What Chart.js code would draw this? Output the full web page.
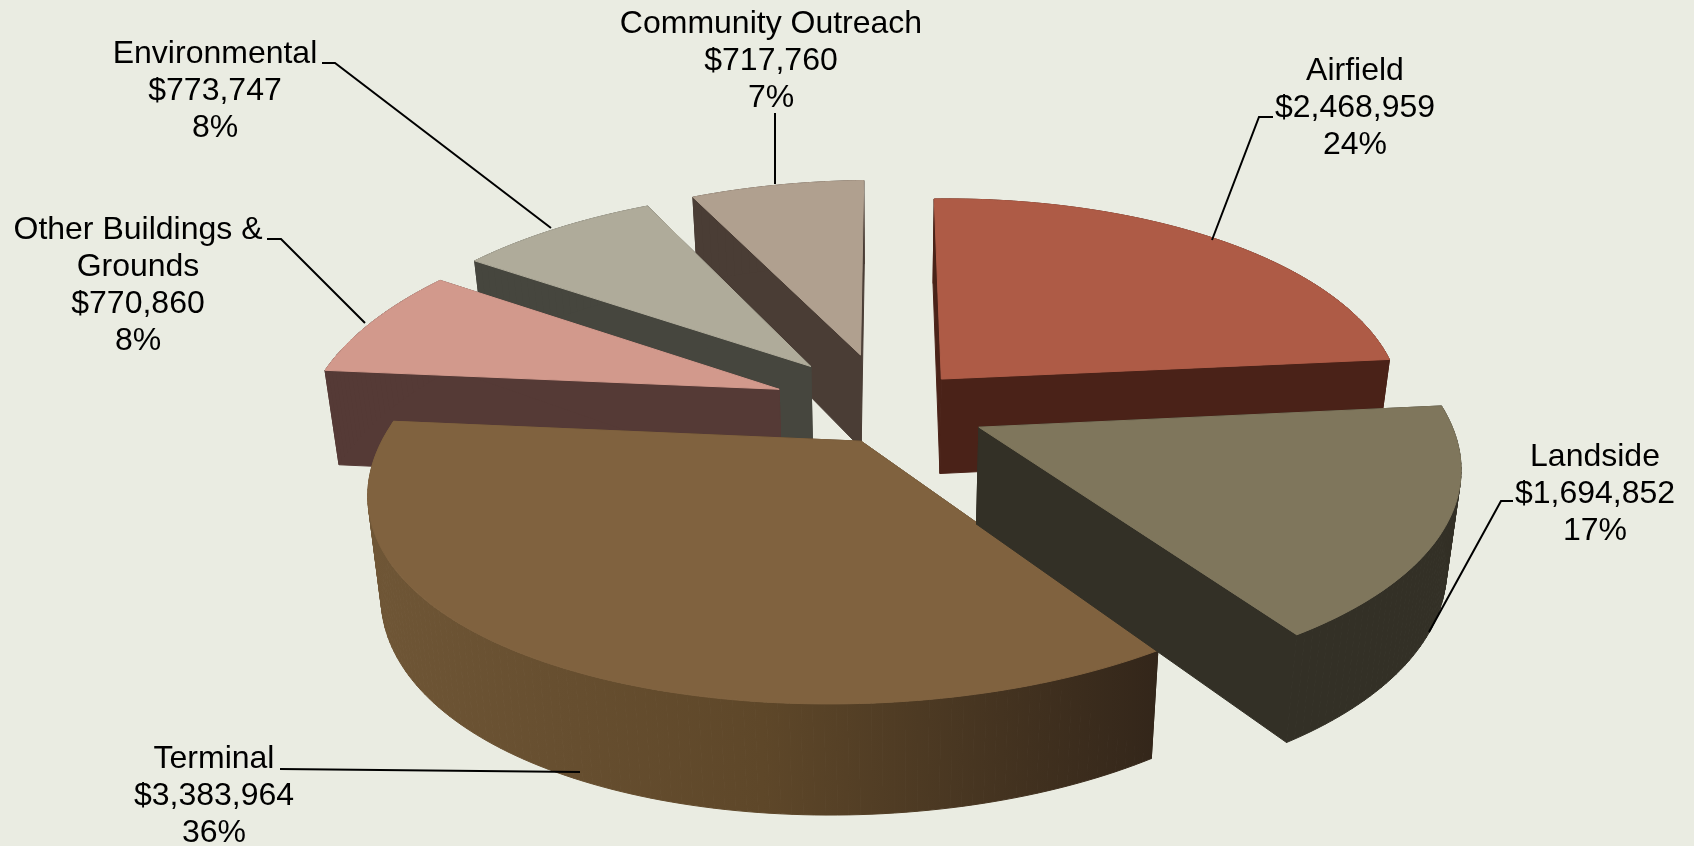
<!DOCTYPE html>
<html>
<head>
<meta charset="utf-8">
<title>Capital spending by area</title>
<script src="https://cdn.jsdelivr.net/npm/chart.js@4"></script>
<style>
  html, body { margin: 0; padding: 0; background: #eaece2; }
  canvas { display: block; }
</style>
</head>
<body>
<canvas id="myPieChart" width="1694" height="846"></canvas>
<script>
var categories = ['Airfield', 'Landside', 'Terminal', 'Other Buildings & Grounds', 'Environmental', 'Community Outreach'];
var dollars = ['$2,468,959', '$1,694,852', '$3,383,964', '$770,860', '$773,747', '$717,760'];
var shares = [24, 17, 36, 8, 8, 7];

var topColors = ['#ae5b46', '#7f765c', '#80623f', '#d2998c', '#afab9a', '#b0a08f'];
var wallColors = ['#4a2218', '#333026', ['#6f5636', '#5e4729', '#33261a'], '#553a36', '#46463e', '#4a3d35'];
var explode = [66, 82, 48, 93, 97, 97];
// extra screen shift per slice, the exploded slices do not all sit on one plane
var nudges = [[0, 0], [0, 0], [8, 10], [0, 0], [0, 0], [0, 0]];
var paintOrder = [5, 4, 0, 3, 2, 1];

// label block: centre x, first line y, leader polyline
var labelLines = [
  ['Airfield'], ['Landside'], ['Terminal'], ['Other Buildings &', 'Grounds'], ['Environmental'], ['Community Outreach']
];
var labelSpots = [[1355, 71], [1595, 457], [214, 759], [138, 230], [215, 54], [771, 24]];
var leaders = [
  [[1273, 117], [1259, 117], [1212, 240]],
  [[1513, 501], [1501, 501], [1429, 632]],
  [[280, 769], [580, 772]],
  [[267, 239], [281, 239], [365, 323]],
  [[322, 63], [335, 63], [551, 228]],
  [[775, 113], [775, 184]]
];

// camera for the tilted pie, near points spread a little wider than they drop
var view = { cx: 886, cy: 407, a: 468, b: 215, k: 0.15, m: 0.01, spread: 0.035, shear: 0.016, depth: 96, shrink: 0.975 };

function project(px, py) {
  var w = 1 - view.k * py + view.m * px;
  var x = view.cx + view.a * px / (w - view.spread * Math.max(py, 0));
  var y = view.cy + view.b * py / w - view.shear * (x - view.cx);
  return { x: x, y: y, w: w };
}

function dropDown(p) {
  return { x: view.cx + (p.x - view.cx) * view.shrink, y: p.y + view.depth / Math.pow(p.w, 0.8) };
}

function sliceOutline(arc, offset, nudge) {
  var p = arc.getProps(['startAngle', 'endAngle', 'outerRadius'], true);
  var mid = (p.startAngle + p.endAngle) / 2;
  var ox = Math.cos(mid) * offset / p.outerRadius;
  var oy = Math.sin(mid) * offset / p.outerRadius;
  var pts = [project(ox, oy)];
  var steps = Math.ceil((p.endAngle - p.startAngle) / 0.02);
  for (var i = 0; i <= steps; i++) {
    var t = p.startAngle + (p.endAngle - p.startAngle) * i / steps;
    pts.push(project(ox + Math.cos(t), oy + Math.sin(t)));
  }
  return pts.map(function(q) {
    return { x: q.x + nudge[0], y: q.y + nudge[1], w: q.w };
  });
}

function wallFill(ctx, colors, pts) {
  if (typeof colors === 'string') return colors;
  var xs = pts.map(function(q) { return q.x; });
  var g = ctx.createLinearGradient(Math.min.apply(null, xs), 0, Math.max.apply(null, xs), 0);
  colors.forEach(function(c, i) { g.addColorStop(i / (colors.length - 1), c); });
  return g;
}

var tiltedPie = {
  id: 'tiltedPie',
  beforeDatasetDraw: function(chart, args) {
    var ctx = chart.ctx;
    var arcs = args.meta.data;
    ctx.save();
    ctx.lineJoin = 'round';
    paintOrder.forEach(function(idx) {
      var pts = sliceOutline(arcs[idx], arcs[idx].options.offset, nudges[idx]);
      var low = pts.map(function(q) {
        var d = dropDown({ x: q.x - nudges[idx][0], y: q.y - nudges[idx][1], w: q.w });
        return { x: d.x + nudges[idx][0], y: d.y + nudges[idx][1] };
      });
      var fill = wallFill(ctx, wallColors[idx], pts);
      ctx.fillStyle = fill;
      ctx.strokeStyle = fill;
      ctx.lineWidth = 1;
      for (var i = 0; i < pts.length; i++) {
        var j = (i + 1) % pts.length;
        ctx.beginPath();
        ctx.moveTo(pts[i].x, pts[i].y);
        ctx.lineTo(pts[j].x, pts[j].y);
        ctx.lineTo(low[j].x, low[j].y);
        ctx.lineTo(low[i].x, low[i].y);
        ctx.closePath();
        ctx.fill();
        ctx.stroke();
      }
      ctx.beginPath();
      pts.forEach(function(q, n) {
        if (n === 0) ctx.moveTo(q.x, q.y); else ctx.lineTo(q.x, q.y);
      });
      ctx.closePath();
      ctx.fillStyle = topColors[idx];
      ctx.strokeStyle = topColors[idx];
      ctx.fill();
      ctx.stroke();
    });
    ctx.restore();
    return false;
  },
  afterDatasetsDraw: function(chart) {
    var ctx = chart.ctx;
    ctx.save();
    ctx.strokeStyle = '#000';
    ctx.lineWidth = 2;
    leaders.forEach(function(line) {
      ctx.beginPath();
      line.forEach(function(q, n) {
        if (n === 0) ctx.moveTo(q[0], q[1]); else ctx.lineTo(q[0], q[1]);
      });
      ctx.stroke();
    });
    ctx.fillStyle = '#000';
    ctx.font = '32px "Liberation Sans", Arial, sans-serif';
    ctx.textAlign = 'center';
    ctx.textBaseline = 'middle';
    categories.forEach(function(name, i) {
      var rows = labelLines[i].concat([dollars[i], shares[i] + '%']);
      rows.forEach(function(row, r) {
        ctx.fillText(row, labelSpots[i][0], labelSpots[i][1] + r * 37);
      });
    });
    ctx.restore();
  }
};

var ctx = document.getElementById('myPieChart');
var myChart = new Chart(ctx, {
  type: 'pie',
  data: {
    labels: categories,
    datasets: [{
      data: shares,
      backgroundColor: topColors,
      offset: explode,
      borderWidth: 0
    }]
  },
  options: {
    responsive: false,
    animation: false,
    events: [],
    plugins: { legend: { display: false }, tooltip: { enabled: false } }
  },
  plugins: [tiltedPie]
});
</script>
</body>
</html>
